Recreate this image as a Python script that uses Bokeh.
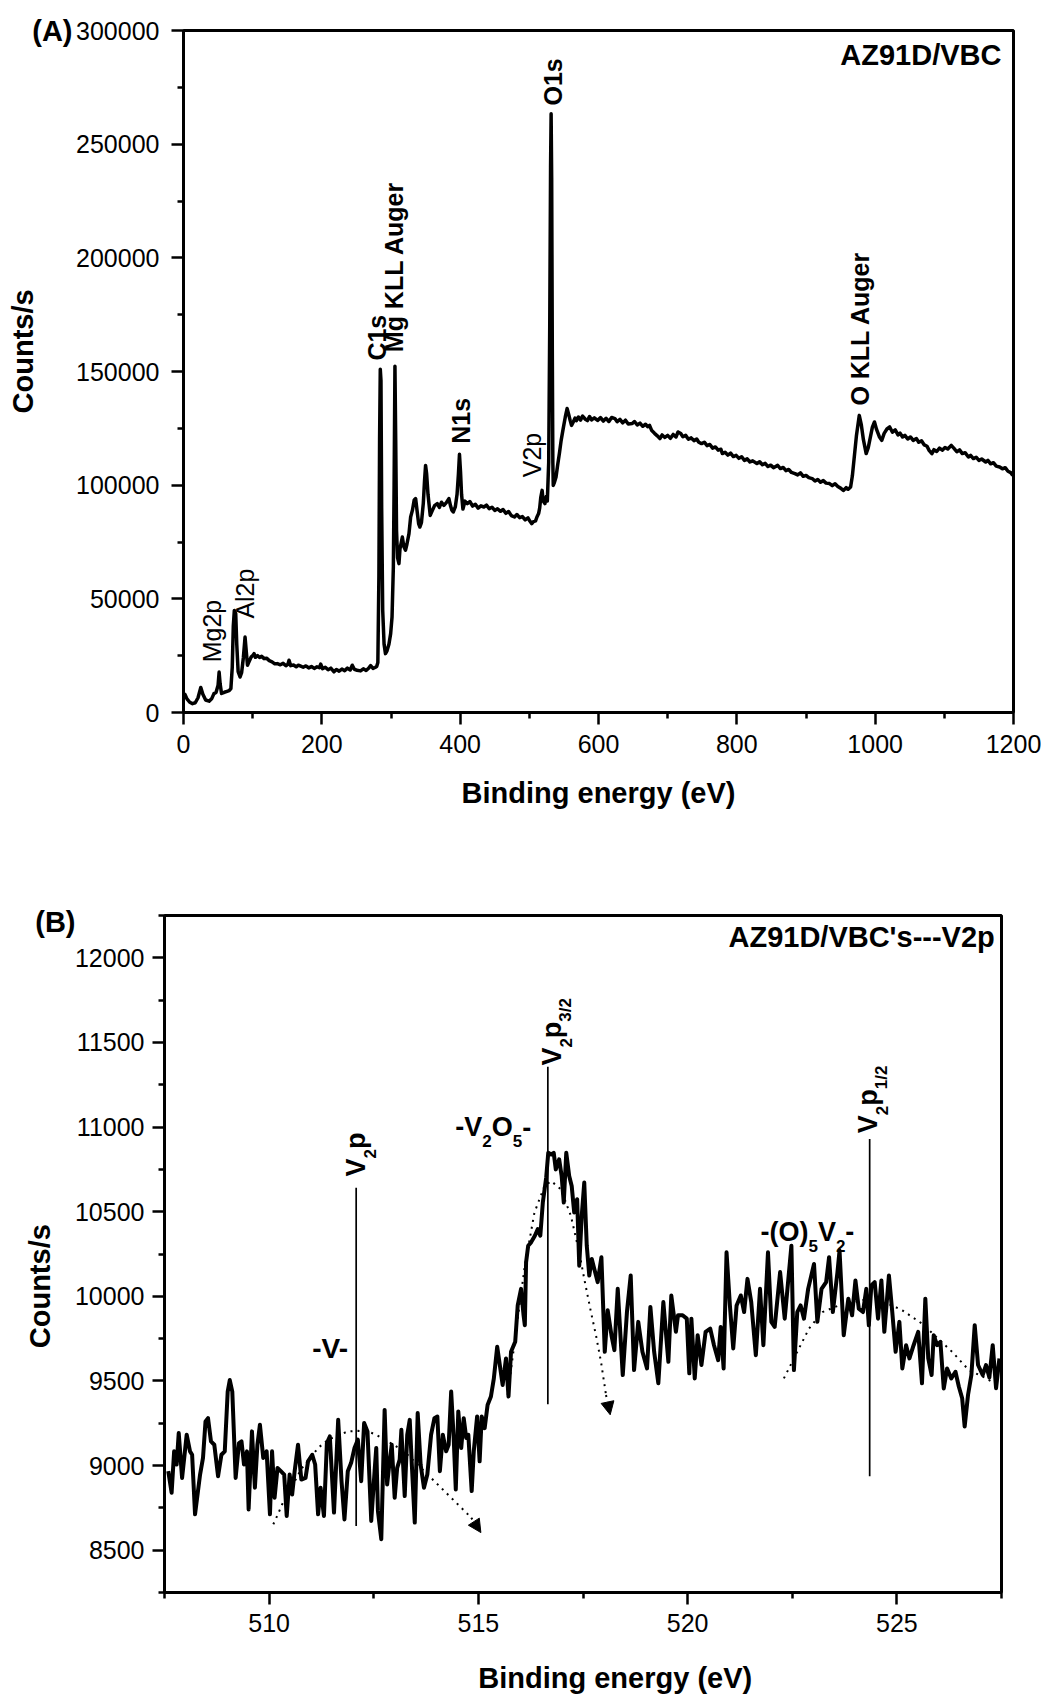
import math
from bokeh.plotting import figure
from bokeh.models import (Range1d, FixedTicker, BasicTickFormatter, Label, Arrow, NormalHead,
                          LinearAxis)
from bokeh.embed import file_html
from bokeh.resources import INLINE

FONT = "Liberation Sans"
NB = "\u00a0"
K_BASE = 0.4  # measured offset of Label baseline, as a fraction of font size

# ---------------- Panel A: survey spectrum ----------------
survey_ev = [0, 2, 5, 9, 13, 17, 21, 25, 28, 32, 37, 41, 44, 47, 50, 51.5, 53, 55, 59, 63, 66, 68.5,
             70.5, 72, 73.5, 75.5, 77, 79, 81.8, 84, 86.5, 89, 91, 92.5, 95, 98, 100, 102, 104, 107,
             110, 113, 116.5, 120, 124, 128, 132, 135.8, 140, 144, 148, 151, 152.6, 155, 159, 163,
             166, 169.5, 173, 177, 181, 185, 189, 193, 196.5, 198.4, 201, 205, 209, 213, 217.6, 221,
             225, 229, 233, 237, 241, 244, 247, 251, 256, 260, 264, 268, 270.6, 274, 277, 279.3, 281,
             282.5, 283.5, 284.5, 285.5, 286.5, 288, 290, 292, 294, 297, 299.5, 301.5, 303.4, 304.5,
             305.7, 306.8, 308, 309.5, 311.5, 313, 316.4, 318.5, 321, 323, 326, 328.4, 331, 333.5,
             335.6, 338, 340, 341.8, 344, 346.7, 348.5, 350, 351.5, 353.5, 356.7, 360, 363, 366.9,
             370, 373, 376.5, 380, 383.7, 386, 388, 390, 393, 395.5, 397.5, 399, 400.5, 402, 404,
             407, 410.3, 414, 418, 422, 426, 430, 434.3, 438, 442, 446, 450, 454, 458.4, 462, 466,
             470, 474, 478.5, 482, 486, 490, 494, 498, 501, 503.5, 506, 509, 511, 513.4, 515, 516.5,
             518.5, 520, 522.5, 524.5, 526, 528, 529.5, 530.7, 531.5, 532.3, 533.2, 534, 534.6, 536,
             538.6, 541, 543.5, 546, 549, 552, 554.6, 557, 559, 561, 563.5, 566, 568, 571, 574, 577,
             581, 584, 587, 590, 594, 598.7, 603, 607, 611, 615, 619, 623.7, 627, 631, 635, 639, 643,
             648.8, 652, 656, 660, 664, 668, 671, 673.8, 677, 681, 685, 688.8, 692, 696, 700, 704,
             708, 712, 715, 718.9, 722, 726, 730, 734, 738, 742, 745, 749, 753, 757, 761, 765, 769,
             773, 777, 779, 783, 787, 791, 795, 799, 803, 807, 811, 815, 819, 823, 829, 833, 837,
             841, 845, 849, 853, 859, 863, 867, 871, 875, 879, 884, 888, 892, 896, 900, 904, 909,
             913, 917, 921, 925, 929, 934, 938, 942, 946, 950, 954, 958, 961, 964.5, 967, 970, 973,
             977, 980, 983, 987, 990, 993, 996, 999, 1002, 1006, 1009.5, 1013, 1017, 1021, 1025,
             1029, 1033, 1036, 1039.6, 1043, 1047, 1051, 1055, 1059.7, 1063, 1067, 1071, 1075, 1078,
             1082, 1085, 1089, 1093, 1097, 1101, 1105, 1110, 1114, 1118, 1122, 1126, 1130, 1134.8,
             1138, 1142, 1146, 1150, 1154, 1159.8, 1163, 1167, 1171, 1175, 1180, 1184, 1188, 1192,
             1196, 1199]
survey_counts = [7500, 8000, 6000, 4500, 3900, 4300, 6500, 11000, 8000, 5500, 5000, 6200, 8300, 8800,
                 12000, 17800, 12500, 8400, 8900, 9300, 9600, 10500, 20000, 38000, 44900, 43500,
                 30000, 18000, 15600, 17500, 24000, 33200, 26000, 20800, 22500, 24500, 25000, 25900,
                 24300, 25000, 24200, 24700, 23700, 23900, 22800, 22300, 21400, 21500, 21000, 21600,
                 20600, 21200, 23000, 20600, 20900, 20100, 20800, 20360, 19900, 20500, 19600, 20200,
                 19400, 20100, 19700, 21300, 19300, 19900, 18800, 19500, 17900, 18900, 18200, 19100,
                 18400, 19500, 18700, 20800, 19000, 18600, 18300, 19200, 18500, 19600, 20600, 19400,
                 19800, 20200, 22000, 60000, 120000, 151000, 146000, 90000, 45000, 30000, 25900,
                 27000, 30000, 34700, 42000, 64000, 100000, 152300, 120000, 80000, 68000, 65500,
                 72000, 77200, 73000, 71400, 74000, 78700, 86000, 89000, 93500, 94100, 88000, 83000,
                 81600, 83500, 92000, 102000, 108700, 105000, 96000, 86700, 89000, 91000, 91900,
                 90200, 92500, 91100, 92300, 94100, 91000, 89000, 88200, 90500, 96000, 105000,
                 113600, 106000, 96000, 89500, 93000, 91900, 92800, 90800, 91600, 89900, 90900,
                 90400, 91200, 89700, 90300, 88900, 89600, 88500, 89300, 87600, 88400, 86600, 86000,
                 87100, 85700, 86200, 84700, 85600, 84100, 83100, 84000, 84300, 86000, 87500, 90000,
                 94500, 97700, 93000, 91900, 95000, 93000, 110000, 170000, 240000, 263400, 235000,
                 160000, 110000, 99900, 101000, 103600, 109000, 114000, 119700, 125000, 130000,
                 133700, 131000, 128500, 126300, 127800, 129500, 128400, 130000, 128600, 130400,
                 129000, 128400, 130200, 128700, 129600, 128500, 129700, 128200, 129400, 128000,
                 129800, 129300, 127900, 128900, 127400, 128600, 126900, 127100, 128000, 126500,
                 127300, 125900, 126800, 125700, 126300, 124000, 122800, 121700, 120500, 122100,
                 121000, 121900, 120600, 122300, 121200, 123400, 122700, 121300, 121900, 120200,
                 120800, 119600, 120300, 118900, 118300, 118900, 117400, 117900, 116300, 116800,
                 115400, 115800, 113900, 114500, 113200, 114100, 112600, 113100, 111800, 112500,
                 110900, 111600, 110200, 110700, 109500, 110300, 109000, 109600, 108200, 108800,
                 107700, 108700, 107300, 107800, 106400, 106900, 105600, 105100, 104500, 105400,
                 103900, 104300, 103300, 102900, 101800, 102500, 101300, 102000, 100900, 100700,
                 99800, 100600, 99400, 98700, 97700, 98900, 98200, 99200, 104000, 113000, 122000,
                 130700, 126500, 120000, 113900, 116500, 121000, 125500, 127800, 124500, 121300,
                 119700, 122800, 124700, 125600, 123300, 124300, 122100, 122900, 121200, 121900,
                 120300, 121200, 119700, 120500, 118900, 119500, 117700, 117100, 115300, 113900,
                 115600, 114800, 116300, 115400, 116600, 115900, 117500, 116200, 114700, 115500,
                 113900, 114300, 112400, 113100, 111700, 112300, 110900, 111500, 110200, 110900,
                 109400, 109900, 108400, 108000, 107200, 107700, 106100, 105500, 104300]
survey_xticks = [0, 200, 400, 600, 800, 1000, 1200]
survey_yticks = [0, 50000, 100000, 150000, 200000, 250000, 300000]

peak_labels_a = ["Mg2p", "Al2p", "C1s", "Mg KLL Auger", "N1s", "V2p", "O1s", "O KLL Auger"]
peak_label_ev = [55, 104, 294.5, 319.5, 415, 519, 548.5, 992]
peak_label_counts = [22100, 41300, 154800, 158500, 118200, 103500, 267000, 135000]
peak_label_bold = [False, False, True, True, True, False, True, True]

# ---------------- Panel B: V2p region ----------------
v2p_ev = [507.59, 507.67, 507.73, 507.79, 507.84, 507.92, 508.03, 508.11, 508.16, 508.23, 508.35,
          508.42, 508.48, 508.54, 508.61, 508.69, 508.78, 508.86, 508.94, 509.01, 509.06, 509.12,
          509.20, 509.28, 509.34, 509.40, 509.47, 509.51, 509.59, 509.66, 509.72, 509.78, 509.86,
          509.94, 510.02, 510.07, 510.13, 510.20, 510.28, 510.36, 510.42, 510.49, 510.55, 510.61,
          510.69, 510.77, 510.87, 510.93, 511.03, 511.10, 511.17, 511.23, 511.31, 511.38, 511.45,
          511.55, 511.65, 511.73, 511.80, 511.88, 511.96, 512.04, 512.12, 512.20, 512.27, 512.35,
          512.44, 512.52, 512.56, 512.60, 512.68, 512.76, 512.82, 512.88, 512.93, 513.00, 513.06,
          513.12, 513.16, 513.24, 513.30, 513.36, 513.41, 513.48, 513.55, 513.62, 513.70, 513.78,
          513.87, 513.95, 514.02, 514.08, 514.15, 514.23, 514.29, 514.35, 514.41, 514.46, 514.52,
          514.59, 514.65, 514.71, 514.76, 514.84, 514.89, 514.97, 515.03, 515.08, 515.15, 515.22,
          515.30, 515.37, 515.45, 515.58, 515.66, 515.72, 515.78, 515.88, 515.94, 516.02, 516.08,
          516.11, 516.14, 516.19, 516.26, 516.35, 516.42, 516.48, 516.54, 516.62, 516.67, 516.74,
          516.80, 516.85, 516.93, 516.99, 517.04, 517.10, 517.17, 517.23, 517.29, 517.36, 517.41,
          517.47, 517.53, 517.59, 517.65, 517.71, 517.77, 517.85, 517.94, 518.02, 518.09, 518.18,
          518.25, 518.33, 518.45, 518.55, 518.64, 518.72, 518.82, 518.92, 519.03, 519.11, 519.20,
          519.30, 519.42, 519.54, 519.61, 519.72, 519.77, 519.88, 519.98, 520.04, 520.09, 520.17,
          520.24, 520.33, 520.43, 520.54, 520.63, 520.73, 520.79, 520.86, 520.93, 521.01, 521.09,
          521.17, 521.27, 521.35, 521.43, 521.52, 521.63, 521.73, 521.81, 521.92, 522.00, 522.08,
          522.21, 522.32, 522.48, 522.54, 522.62, 522.70, 522.78, 522.88, 523.02, 523.10, 523.20,
          523.31, 523.38, 523.47, 523.58, 523.63, 523.73, 523.84, 523.93, 524.01, 524.09, 524.19,
          524.27, 524.33, 524.39, 524.47, 524.55, 524.63, 524.70, 524.81, 524.89, 524.97, 525.06,
          525.13, 525.22, 525.30, 525.40, 525.51, 525.60, 525.68, 525.75, 525.83, 525.88, 525.96,
          526.04, 526.12, 526.20, 526.30, 526.40, 526.48, 526.56, 526.62, 526.70, 526.78, 526.86,
          526.94, 527.05, 527.13, 527.21, 527.29, 527.37, 527.45]
v2p_counts = [8967, 8839, 9084, 9006, 9192, 8927, 9182, 9084, 9064, 8712, 8947, 9045, 9261, 9280,
              9143, 9123, 8937, 9064, 9084, 9437, 9505, 9437, 8927, 9133, 9143, 9006, 9084, 8741,
              9202, 8869, 9123, 9241, 9045, 9084, 8712, 9084, 8810, 8986, 8967, 8947, 8702, 8947,
              8829, 8967, 9123, 8917, 8927, 9025, 9064, 9006, 8712, 8869, 8702, 9133, 9172, 8722,
              9270, 8908, 8682, 8967, 9016, 9104, 9153, 8908, 9251, 9202, 8673, 8967, 9104, 8732,
              8565, 9329, 8888, 9025, 9123, 8810, 8986, 9035, 9211, 8820, 9182, 9270, 9006, 8663,
              9310, 9006, 8869, 8947, 9182, 9280, 9290, 8967, 9182, 9084, 9123, 9437, 9163, 8859,
              9320, 9104, 9280, 9163, 9182, 8849, 9084, 9290, 9025, 9290, 9221, 9358, 9408, 9515,
              9702, 9476, 9633, 9408, 9672, 9731, 9946, 10044, 9888, 9829, 10201, 10299, 10319,
              10358, 10397, 10358, 10554, 10701, 10848, 10838, 10848, 10750, 10809, 10711, 10554,
              10848, 10711, 10652, 10495, 10574, 10181, 10476, 10672, 10299, 10123, 10221, 10162,
              10084, 10231, 9672, 9917, 9770, 9682, 10044, 9535, 9907, 10123, 9564, 9849, 9672,
              9574, 9937, 9672, 9486, 9966, 9613, 10005, 9790, 9888, 9888, 9868, 9545, 9868, 9515,
              9770, 9594, 9790, 9809, 9711, 9623, 9819, 9574, 10260, 9946, 9692, 9946, 10005, 9907,
              10103, 9966, 9652, 10044, 9711, 10260, 9849, 9819, 10143, 9868, 10299, 9564, 9907,
              9946, 9868, 10044, 10191, 9849, 10044, 10084, 10231, 9907, 10143, 10270, 9770, 9986,
              9888, 10094, 9927, 9907, 10044, 9829, 10064, 10084, 9868, 10094, 9790, 10123, 9907,
              9672, 9849, 9574, 9711, 9633, 9711, 9790, 9486, 9986, 9633, 9535, 9770, 9711, 9731,
              9456, 9574, 9515, 9554, 9467, 9398, 9231, 9417, 9535, 9829, 9594, 9535, 9594, 9520,
              9711, 9457, 9633]
v2p_xticks = [510, 515, 520, 525]
v2p_yticks = [8500, 9000, 9500, 10000, 10500, 11000, 11500, 12000]

fit1_ev = [510.10, 510.21, 510.31, 510.77, 511.17, 511.41, 511.88, 512.12, 512.36, 512.56, 513.20,
           513.87, 514.19, 514.59, 514.83]
fit1_counts = [8653, 8712, 8770, 8980, 9104, 9153, 9202, 9205, 9202, 9182, 9090, 8927, 8849, 8751, 8692]
fit1_tip = (515.06, 8604)
fit2_ev = [515.70, 515.94, 516.10, 516.34, 516.58, 516.74, 516.97, 517.21, 517.41, 517.53, 517.69,
           517.81, 517.93, 518.05]
fit2_counts = [9417, 9868, 10162, 10495, 10652, 10681, 10633, 10476, 10260, 10103, 9907, 9770, 9613, 9417]
fit2_tip = (518.15, 9300)
fit3_ev = [522.30, 522.42, 522.66, 522.90, 523.22, 523.61, 524.33, 524.89, 525.13, 525.60, 526.32,
           526.72, 527.10, 527.45]
fit3_counts = [9515, 9574, 9692, 9809, 9907, 9946, 9986, 9946, 9917, 9839, 9672, 9564, 9520, 9470]

marker_ev = [512.08, 516.66, 524.35]
marker_low = [8643, 9362, 8937]
marker_high = [10642, 11357, 10930]

# ---------------- helpers ----------------
ADV = {'-': .333, 'V': .667, 'O': .778, '(': .333, ')': .333, 'p': .611, '1': .556, '2': .556,
       '3': .556, '5': .556, '/': .278}


def lab(p, x, y, text, size, bold=True, align="left", angle=0.0, xo=0.0, yo=0.0):
    corr = K_BASE * size
    if angle:
        xo -= corr
    else:
        yo += corr
    p.add_layout(Label(x=x, y=y, text=text, text_font=FONT, text_font_size=f"{size}px",
                       text_font_style="bold" if bold else "normal", text_color="black",
                       text_align=align, text_baseline="alphabetic", angle=angle,
                       x_offset=xo, y_offset=yo))


def compose(p, x, y, parts, rotated=False, big=27, small=17, drop=10):
    pos = 0.0
    for txt, sub in parts:
        fs = small if sub else big
        d = drop if sub else 0
        if rotated:
            lab(p, x, y, txt, fs, angle=math.pi / 2, xo=d, yo=pos)
        else:
            lab(p, x, y, txt, fs, xo=pos, yo=-d)
        pos += sum(ADV[c] for c in txt) * fs


def style(p, xticks, xminor, yticks, yminor, xstand, ystand):
    p.xaxis.ticker = FixedTicker(ticks=xticks, minor_ticks=xminor)
    p.yaxis.ticker = FixedTicker(ticks=yticks, minor_ticks=yminor)
    for ax, st in ((p.xaxis[0], xstand), (p.yaxis[0], ystand)):
        ax.formatter = BasicTickFormatter(use_scientific=False)
        ax.axis_line_width = 3
        ax.axis_line_color = "black"
        ax.major_tick_line_width = 2.5
        ax.minor_tick_line_width = 2.5
        ax.major_tick_line_color = "black"
        ax.minor_tick_line_color = "black"
        ax.major_tick_in = 0
        ax.major_tick_out = 12
        ax.minor_tick_in = 0
        ax.minor_tick_out = 6
        ax.major_label_text_font = FONT
        ax.major_label_text_font_size = "25px"
        ax.major_label_text_color = "black"
        ax.major_label_standoff = st
        ax.axis_label_text_font = FONT
        ax.axis_label_text_font_size = "29px"
        ax.axis_label_text_font_style = "bold"
        ax.axis_label_text_color = "black"
    p.grid.visible = False
    p.outline_line_color = "black"
    p.outline_line_width = 3
    p.background_fill_color = "white"
    p.border_fill_color = "white"


def panel_axis(p, tick, text, title, standoff, title_standoff):
    ax = LinearAxis(ticker=FixedTicker(ticks=[tick], minor_ticks=[]),
                    major_label_overrides={tick: text},
                    axis_line_color=None, major_tick_line_color=None, minor_tick_line_color=None,
                    major_tick_in=0, major_tick_out=0,
                    major_label_text_font=FONT, major_label_text_font_size="29px",
                    major_label_text_font_style="bold", major_label_text_color="black",
                    major_label_standoff=standoff,
                    axis_label=title, axis_label_standoff=title_standoff,
                    axis_label_text_font=FONT, axis_label_text_font_size="29px",
                    axis_label_text_font_style="bold", axis_label_text_color="black")
    p.add_layout(ax, "left")


# ---------------- Figure A ----------------
pa = figure(width=1041, height=848, output_backend="svg", toolbar_location=None,
            x_range=Range1d(0, 1200), y_range=Range1d(0, 300000),
            min_border_left=183, min_border_right=28, min_border_top=30, min_border_bottom=136)
style(pa, survey_xticks, [100, 300, 500, 700, 900, 1100],
      survey_yticks, [25000, 75000, 125000, 175000, 225000, 275000], 10, 12)
pa.xaxis.axis_label = "Binding energy (eV)"
pa.xaxis.axis_label_standoff = 21
panel_axis(pa, 300000, "(A)", NB * 5 + "Counts/s", 1, -10)
pa.line(survey_ev, survey_counts, line_color="black", line_width=3.5, line_join="round")

for t, xv, yv, b in zip(peak_labels_a, peak_label_ev, peak_label_counts, peak_label_bold):
    lab(pa, xv, yv, t, 25, bold=b, angle=math.pi / 2)
lab(pa, 1182.6, 284160, "AZ91D/VBC", 29, align="right")

# ---------------- Figure B ----------------
pb = figure(width=1041, height=848, output_backend="svg", toolbar_location=None,
            x_range=Range1d(507.5, 527.5), y_range=Range1d(8250, 12250),
            min_border_left=164, min_border_right=40, min_border_top=67, min_border_bottom=102)
style(pb, v2p_xticks, [507.5, 512.5, 517.5, 522.5, 527.5],
      v2p_yticks, [8250, 8750, 9250, 9750, 10250, 10750, 11250, 11750, 12250], 9, 8)
pb.xaxis.axis_label = NB * 8 + "Binding energy (eV)"
pb.xaxis.axis_label_standoff = 27
panel_axis(pb, 12209, "(B)", "Counts/s" + NB * 8, -4, -24)

for fx, fy in ((fit1_ev, fit1_counts), (fit2_ev, fit2_counts), (fit3_ev, fit3_counts)):
    pb.line(fx, fy, line_color="black", line_width=2, line_dash="2 5")
for fx, fy, tip in ((fit1_ev, fit1_counts, fit1_tip), (fit2_ev, fit2_counts, fit2_tip)):
    pb.add_layout(Arrow(end=NormalHead(size=13, fill_color="black", line_color="black"),
                        x_start=fx[-1], y_start=fy[-1], x_end=tip[0], y_end=tip[1],
                        line_color="black", line_width=2, line_dash="2 5"))

pb.segment(x0=marker_ev, y0=marker_low, x1=marker_ev, y1=marker_high,
           line_color="black", line_width=1.7)
pb.line(v2p_ev, v2p_counts, line_color="black", line_width=4, line_join="round")

lab(pb, 511.03, 9628, "-V-", 28)
compose(pb, 514.45, 10935, [("-V", False), ("2", True), ("O", False), ("5", True), ("-", False)])
compose(pb, 521.74, 10318, [("-(O)", False), ("5", True), ("V", False), ("2", True), ("-", False)])
compose(pb, 512.33, 10708, [("V", False), ("2", True), ("p", False)], rotated=True)
compose(pb, 517.01, 11363, [("V", False), ("2", True), ("p", False), ("3/2", True)], rotated=True)
compose(pb, 524.56, 10964, [("V", False), ("2", True), ("p", False), ("1/2", True)], rotated=True)
lab(pb, 527.34, 12054, "AZ91D/VBC's---V2p", 29, align="right")

open("out.html", "w").write(file_html([pa, pb], INLINE))
